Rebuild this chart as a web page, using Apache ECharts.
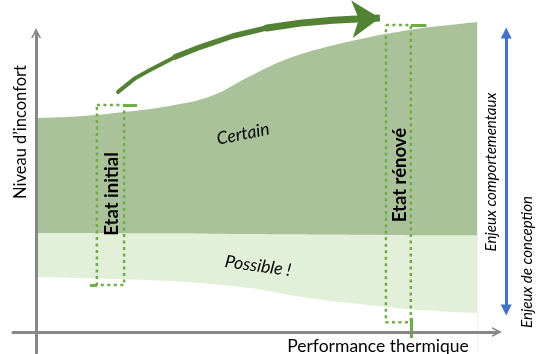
<!DOCTYPE html>
<html>
<head>
<meta charset="utf-8">
<script src="https://cdn.jsdelivr.net/npm/echarts@6/dist/echarts.min.js"></script>
<style>
  html, body { margin: 0; padding: 0; background: #fff; }
  #main { width: 538px; height: 354px; }
</style>
</head>
<body>
<div id="main"></div>
<script>
// positions le long de l'axe "Performance thermique" (0..100)
const xPos = [0, 9.5, 19, 29, 38, 46.5, 55, 64, 72.5, 81, 87.5, 95.7];
// limites des zones (Niveau d'inconfort, 0..100)
const lowerEdge = [18.4, 18.1, 17.7, 17.1, 16.1, 14.7, 12.4, 10.4, 9.0, 7.7, 7.0, 6.4];
const middleEdge = [33.1, 33.1, 33.0, 33.0, 32.9, 32.8, 32.7, 32.6, 32.5, 32.4, 32.4, 32.4];
const upperEdge = [71.6, 72.2, 73.6, 75.6, 78.9, 85.6, 91.6, 95.7, 98.7, 101.0, 102.3, 103.7];

// cadres pointillés [xGauche, xDroite, yHaut, yBas]
const boxInitial = [13.2, 19.1, 75.9, 15.7];
const boxRenove = [75.9, 81.3, 102.7, 3.3];

// flèche courbe (état initial -> état rénové), en trois tronçons de plus en plus épais
const arrowStart = [[17.8, 80.3], [21.5, 84.9], [24.7, 87.6], [30.2, 92.0]];
const arrowMiddle = [[30.2, 92.0], [35.6, 95.3], [42.7, 99.0], [50.1, 101.7]];
const arrowEnd = [[50.1, 101.7], [57.3, 103.3], [64.4, 104.3], [68.5, 104.6]];
const arrowHead = [[68.5, 104.6], [74.6, 105.0]];

// double flèche bleue "Enjeux comportementaux"
const enjeuxArrow = [[102, 100], [102, 7.4]];

const chart = echarts.init(document.getElementById('main'));

const pairs = arr => xPos.map((x, i) => [x, arr[i]]);
const rect = b => [[b[0], b[2]], [b[1], b[2]], [b[1], b[3]], [b[0], b[3]], [b[0], b[2]]];

const green = '#70ad47';
const darkGreen = '#548235';
const dotted = { color: green, width: 2.5, type: [3, 3.5] };
const chevron = 'path://M0,10 L5,0 L10,10 L8.2,10 L5,3.6 L1.8,10 Z';

// zone remplie jusqu'en bas ; les zones suivantes se superposent
const zone = (name, arr, color) => ({
  name: name, type: 'line', smooth: 0.4, symbol: 'none', clip: false, silent: true,
  lineStyle: { width: 0 }, areaStyle: { color: color, opacity: 1, origin: 'start' },
  data: pairs(arr)
});

const label = (text, x, y, rot, font) => ({
  type: 'text', x: x, y: y, rotation: rot, z: 100,
  style: { text: text, font: font, fill: '#000', align: 'center', verticalAlign: 'middle' }
});

var option = {
  animation: false,
  grid: { left: 13, right: 41, top: 33, bottom: 1 },
  xAxis: {
    type: 'value', min: -5, max: 100, z: 10,
    axisLine: { onZero: true, lineStyle: { color: '#878787', width: 3 }, symbol: ['none', chevron], symbolSize: [14, 10] },
    axisTick: { show: false }, axisLabel: { show: false }, splitLine: { show: false }
  },
  yAxis: {
    type: 'value', min: -7, max: 100, z: 10,
    axisLine: { show: true, onZero: true, lineStyle: { color: '#878787', width: 3 }, symbol: ['none', chevron], symbolSize: [14, 10] },
    axisTick: { show: false }, axisLabel: { show: false }, splitLine: { show: false }
  },
  series: [
    zone('Certain', upperEdge, '#a9c29a'),
    zone('Possible', middleEdge, '#e2efd9'),
    zone('fond', lowerEdge, '#ffffff'),
    {
      name: 'Etat initial', type: 'line', symbol: 'none', clip: false, z: 5,
      lineStyle: dotted, data: rect(boxInitial)
    },
    {
      name: 'Etat rénové', type: 'line', symbol: 'none', clip: false, z: 5,
      lineStyle: dotted, data: rect(boxRenove)
    },
    {
      type: 'lines', coordinateSystem: 'cartesian2d', clip: false, z: 5,
      lineStyle: { color: green, width: 3, type: 'solid', opacity: 1 },
      data: [
        { coords: [[boxInitial[1], boxInitial[2]], [21.9, boxInitial[2]]] },
        { coords: [[11.7, boxInitial[3]], [boxInitial[0], boxInitial[3]]] },
        { coords: [[boxRenove[1], boxRenove[2]], [84.7, boxRenove[2]]] },
        { coords: [[boxRenove[1], 4.7], [boxRenove[1], -2.0]] }
      ]
    },
    {
      type: 'lines', coordinateSystem: 'cartesian2d', polyline: true, clip: false, z: 6,
      lineStyle: { color: darkGreen, opacity: 1, cap: 'round', join: 'round' },
      data: [
        { coords: arrowStart, lineStyle: { width: 4 } },
        { coords: arrowMiddle, lineStyle: { width: 5.5 } },
        { coords: arrowEnd, lineStyle: { width: 7 } }
      ]
    },
    {
      type: 'lines', coordinateSystem: 'cartesian2d', clip: false, z: 6,
      symbol: ['none', 'arrow'], symbolSize: [18, 28],
      lineStyle: { color: darkGreen, width: 7, opacity: 1 },
      data: [{ coords: arrowHead }]
    },
    {
      type: 'lines', coordinateSystem: 'cartesian2d', clip: false, z: 6,
      symbol: ['triangle', 'triangle'], symbolSize: 11,
      lineStyle: { color: '#4472c4', width: 3, opacity: 1 },
      data: [{ coords: enjeuxArrow }]
    }
  ],
  graphic: [
    label('Niveau d’inconfort', 21, 132, Math.PI / 2, '16.5px Lato'),
    label('Performance thermique', 378, 346, 0, '17.5px Lato'),
    label('Etat initial', 112, 194, Math.PI / 2, 'bold 18.5px Lato'),
    label('Etat rénové', 400, 175, Math.PI / 2, 'bold 18.5px Lato'),
    label('Certain', 243, 134, 0.2, 'italic 17.5px Lato'),
    label('Possible !', 258, 266, -0.14, 'italic 17.5px Lato'),
    label('Enjeux comportementaux', 491, 172, Math.PI / 2, 'italic 15px Lato'),
    label('Enjeux de conception', 527, 262, Math.PI / 2, 'italic 15px Lato')
  ]
};
chart.setOption(option);
</script>
</body>
</html>
